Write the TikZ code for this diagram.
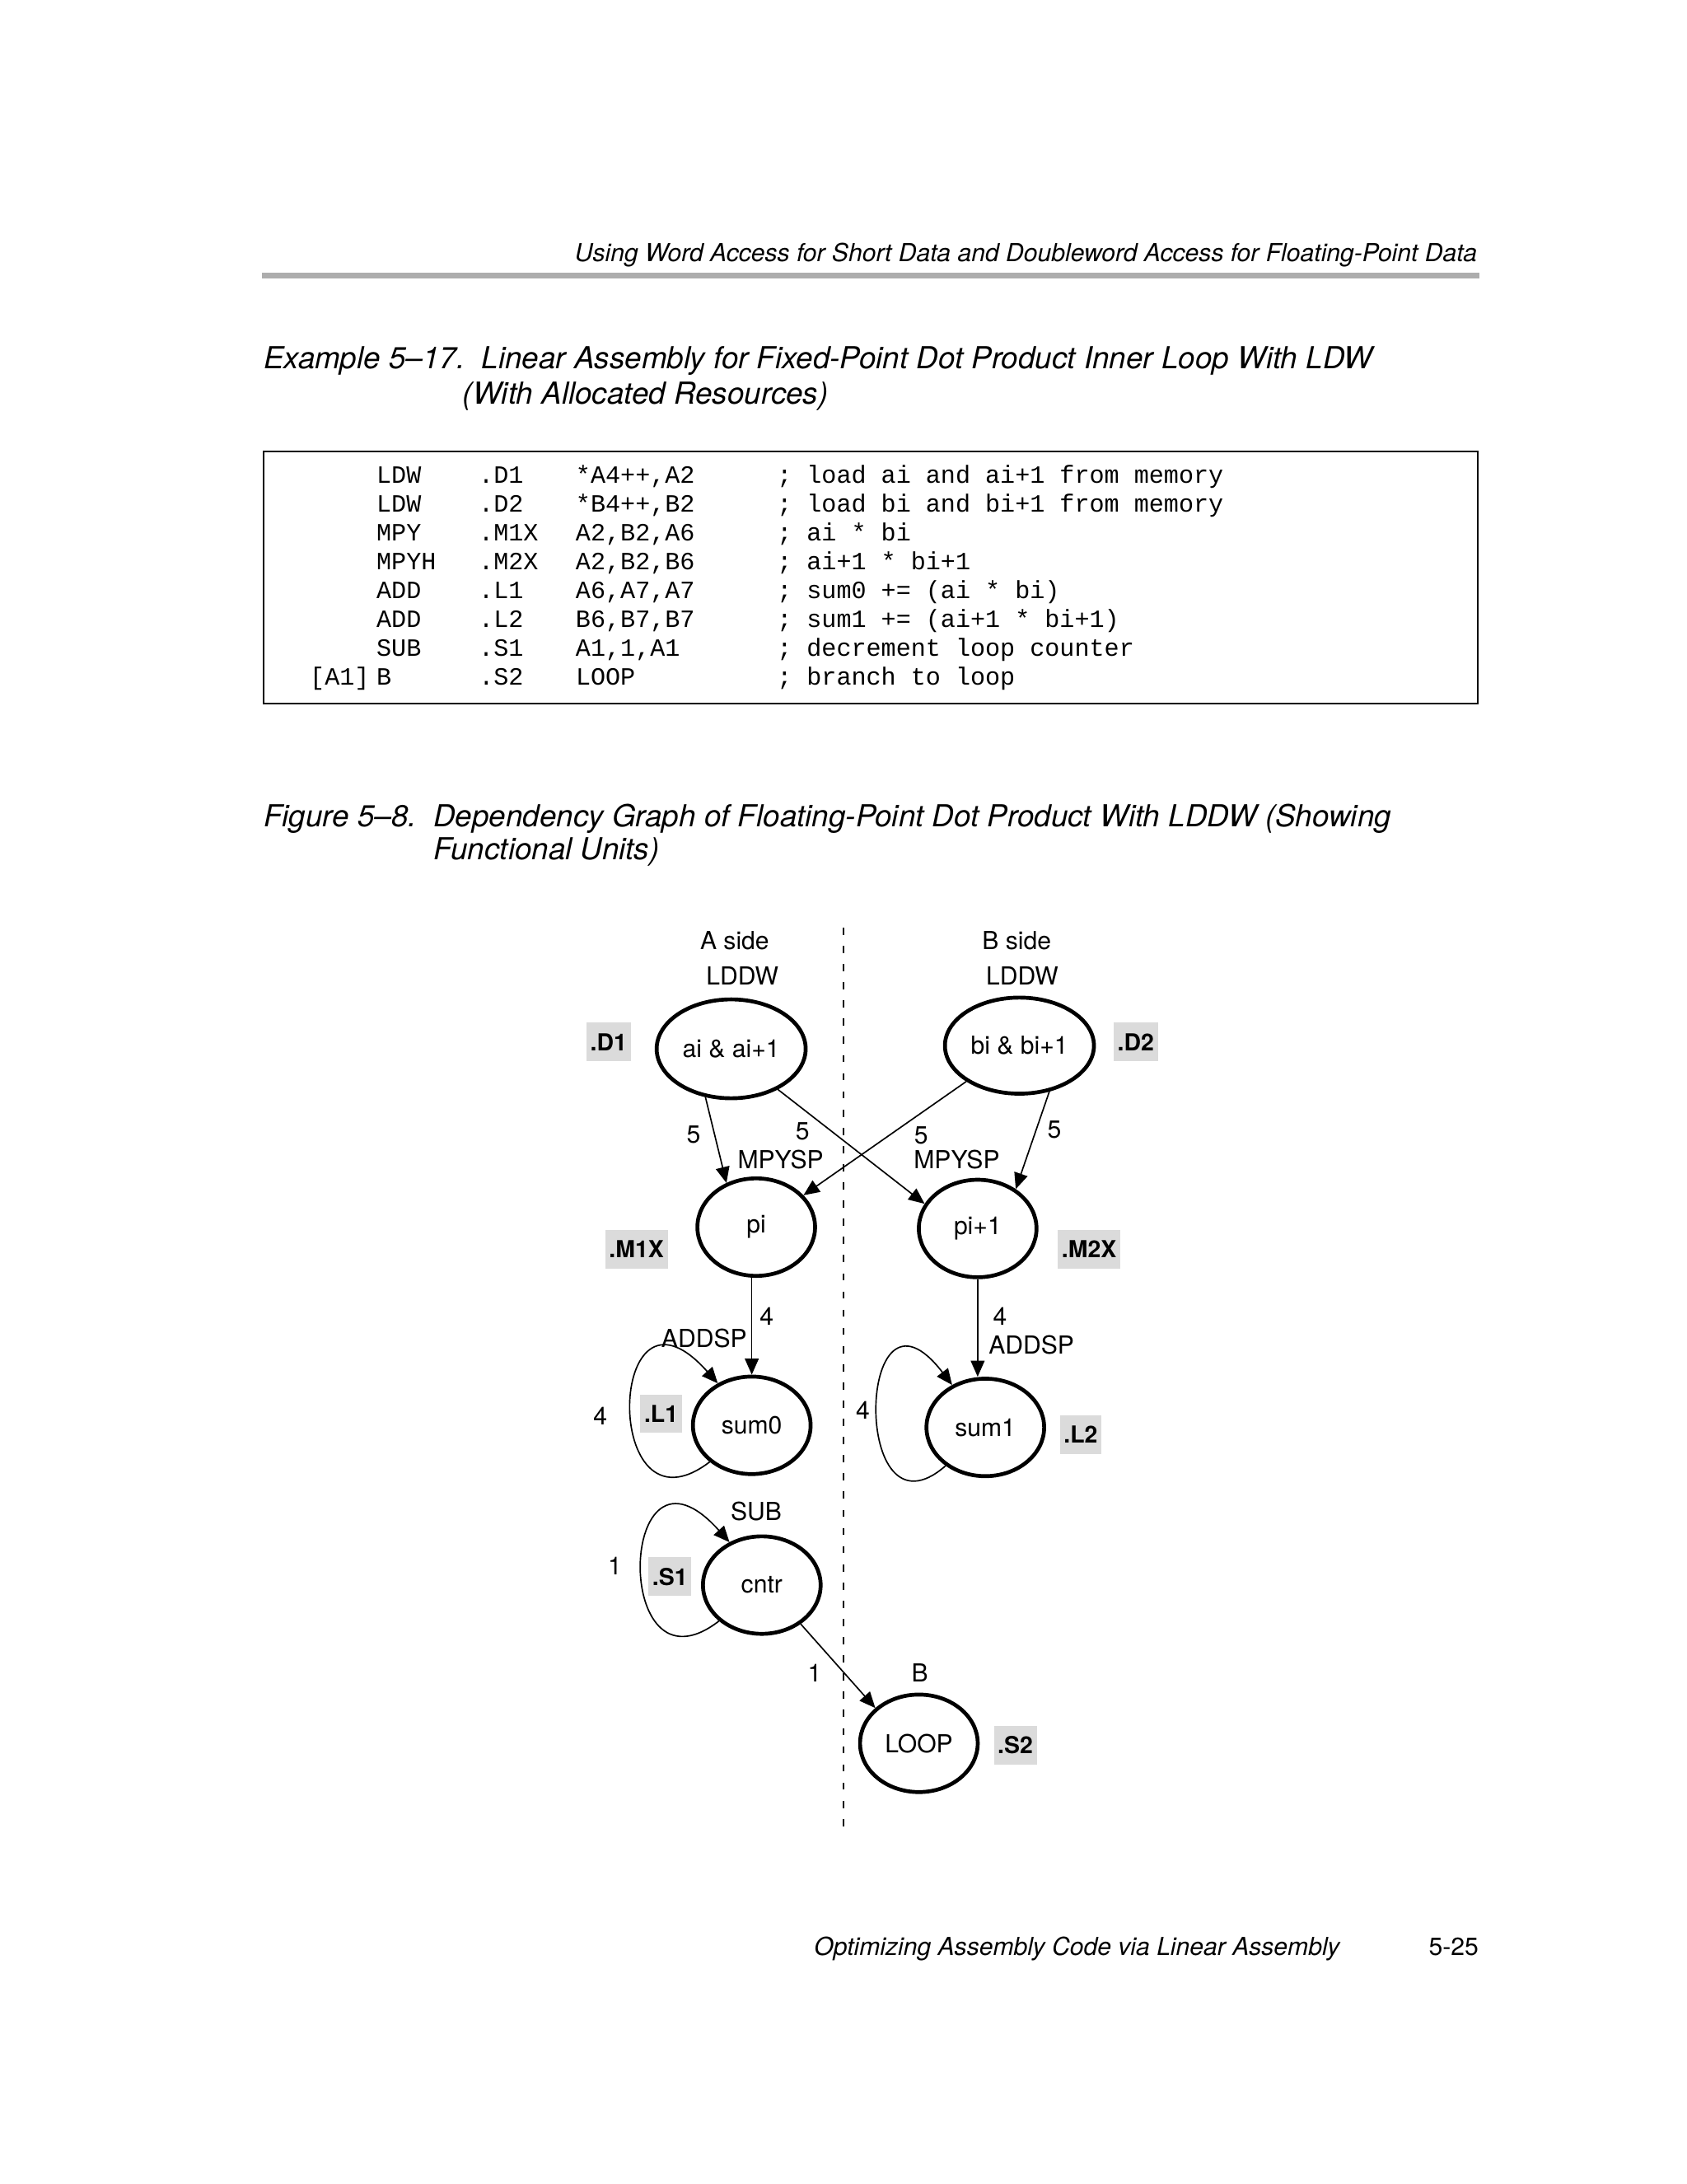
\documentclass[tikz,border=0pt]{standalone}
\usepackage{fontspec}
\setmainfont{TeX Gyre Heros}
\setmonofont{Liberation Mono}
\usetikzlibrary{arrows.meta,shapes.geometric}
\def\U{0.50537pt}
\newcommand\fsz[1]{\fontsize{#1}{#1}\selectfont}
\newcommand\codeln[4]{\makebox[37.1pt][l]{#1}\makebox[35.2pt][l]{#2}\makebox[73pt][l]{#3}#4}
\definecolor{unitgray}{gray}{0.86}
\definecolor{rulegray}{gray}{0.68}
\begin{document}
\begin{tikzpicture}[x=0.50537pt, y=-0.50537pt,
  st/.style={ellipse, draw, line width=1.4pt, inner sep=0pt,
    minimum width=84.5*\U, minimum height=70*\U, font=\fsz{9}},
  unitbox/.style={fill=unitgray, font=\bfseries\fsz{8.5}, inner xsep=1.4pt,
    inner ysep=0pt, minimum height=14pt},
  lbl/.style={font=\fsz{9}, inner sep=0pt, anchor=base},
  dep/.style={line width=0.5pt, -{Triangle[length=5.8pt,width=5pt]}},
  ttl/.style={font=\itshape\fsz{11}, inner sep=0pt, anchor=base west}]
\useasboundingbox (0,0) rectangle (1211,1568);

% page header
\node[font=\itshape\fsz{9}, inner sep=0pt, anchor=base east] (hdr) at (1061,188)
  {Using Word Access for Short Data and Doubleword Access for Floating-Point Data};
\coordinate (rl) at (188,198);
\coordinate (rr) at (1062,198);
\draw[line width=2.2pt, rulegray] (rl) -- (rr);

% example title
\node[ttl] (ex1) at (189,264.5)
  {Example 5–17.\ \ Linear Assembly for Fixed-Point Dot Product Inner Loop With LDW};
\node[ttl] (ex2) at (332,290) {(With Allocated Resources)};

% code box
\draw[line width=0.6pt] (189,324) rectangle (1061,505);
\node[inner sep=0pt, anchor=base west] (code) at (270,347) {\ttfamily\fontsize{9}{10.45}\selectfont
\begin{tabular}[t]{@{}l@{}}
\codeln{LDW}{.D1}{*A4++,A2}{; load ai and ai+1 from memory}\\
\codeln{LDW}{.D2}{*B4++,B2}{; load bi and bi+1 from memory}\\
\codeln{MPY}{.M1X}{A2,B2,A6}{; ai * bi}\\
\codeln{MPYH}{.M2X}{A2,B2,B6}{; ai+1 * bi+1}\\
\codeln{ADD}{.L1}{A6,A7,A7}{; sum0 += (ai * bi)}\\
\codeln{ADD}{.L2}{B6,B7,B7}{; sum1 += (ai+1 * bi+1)}\\
\codeln{SUB}{.S1}{A1,1,A1}{; decrement loop counter}\\
\llap{[A1]\hspace{2.6pt}}\codeln{B}{.S2}{LOOP}{; branch to loop}
\end{tabular}};

% figure title
\node[ttl] (fg1) at (189,593.5)
  {Figure 5–8.\ \ Dependency Graph of Floating-Point Dot Product With LDDW (Showing};
\node[ttl] (fg2) at (311,617) {Functional Units)};

% separator
\coordinate (sepT) at (605.5,666);
\coordinate (sepB) at (605.5,1314);
\draw[line width=0.5pt, dash pattern=on 2.6pt off 4pt] (sepT) -- (sepB);

% graph nodes
\node[st, minimum width=107*\U, minimum height=71*\U] (ai) at (525,753) {ai \& ai+1};
\node[st, minimum width=107*\U, minimum height=69*\U] (bi) at (732,750.7) {bi \& bi+1};
\node[st] (pi) at (543,881) {pi};
\node[st] (pi1) at (702,882) {pi+1};
\node[st] (sum0) at (539.8,1023.3) {sum0};
\node[st] (sum1) at (707.5,1024.8) {sum1};
\node[st] (cntr) at (547,1138) {cntr};
\node[st] (loop) at (659.8,1251.6) {LOOP};

% functional unit boxes
\node[unitbox] (uD1) at (437,748) {.D1};
\node[unitbox] (uD2) at (815.5,748) {.D2};
\node[unitbox] (uM1) at (457,897) {.M1X};
\node[unitbox] (uM2) at (782,897) {.M2X};
\node[unitbox] (uL1) at (474.7,1015) {.L1};
\node[unitbox] (uL2) at (776,1030) {.L2};
\node[unitbox] (uS1) at (481,1132) {.S1};
\node[unitbox] (uS2) at (729,1253) {.S2};

% labels
\node[lbl] (sa) at (527.5,681.4) {A side};
\node[lbl] (sb) at (730,681.4) {B side};
\node[lbl] (la) at (533,707.1) {LDDW};
\node[lbl] (lb) at (734,707.1) {LDDW};
\node[lbl] (f1) at (498,820.4) {5};
\node[lbl] (f2) at (576.3,818.4) {5};
\node[lbl] (f3) at (661.4,821.4) {5};
\node[lbl] (f4) at (757,817.4) {5};
\node[lbl] (mp1) at (560.5,839) {MPYSP};
\node[lbl] (mp2) at (687,839) {MPYSP};
\node[lbl] (q1) at (550.5,951.4) {4};
\node[lbl] (q2) at (718,951.4) {4};
\node[lbl] (ad1) at (505.6,967.4) {ADDSP};
\node[lbl] (ad2) at (740.6,971.8) {ADDSP};
\node[lbl] (q3) at (431,1022.9) {4};
\node[lbl] (q4) at (619.6,1018.9) {4};
\node[lbl] (sub) at (543,1091.4) {SUB};
\node[lbl] (o1) at (441.5,1130.4) {1};
\node[lbl] (o2) at (585,1207.2) {1};
\node[lbl] (bb) at (660.5,1207.2) {B};

% dependencies
\draw[dep] (ai.242) -- (pi.124);
\draw[dep] (ai.319) -- (pi1.155);
\draw[dep] (bi.214) -- (pi.34);
\draw[dep] (bi.303) -- (pi1.46);
\draw[dep] (sum0.north |- pi.south) -- (sum0.north);
\draw[dep] (pi1.south) -- (pi1.south |- sum1.north);
\draw[dep] (sum0.221) .. controls +(-78.6,60) and +(-80,-90) .. (sum0.129);
\draw[dep] (sum1.224) .. controls +(-68.6,60) and +(-69,-90) .. (sum1.128);
\draw[dep] (cntr.220) .. controls +(-77.9,60) and +(-80.5,-90) .. (cntr.127);
\draw[dep] (cntr.315) -- (loop.141);

% footer
\node[font=\itshape\fsz{9}, inner sep=0pt, anchor=base west] (ft) at (584.2,1403.7)
  {Optimizing Assembly Code via Linear Assembly};
\node[font=\fsz{9}, inner sep=0pt, anchor=base east] (pg) at (1062,1403.7) {5-25};
\end{tikzpicture}
\end{document}
